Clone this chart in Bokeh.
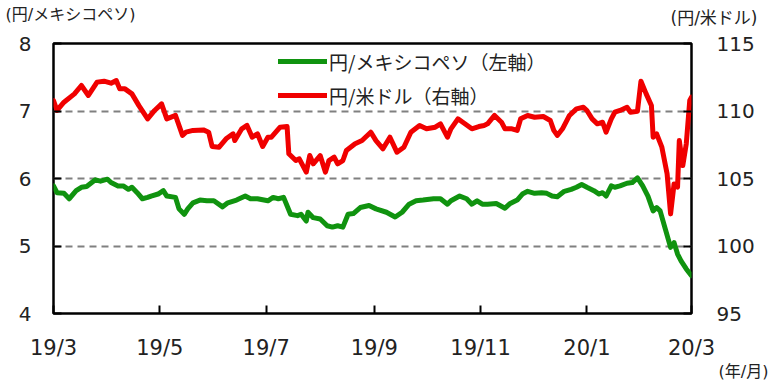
import pandas as pd
from bokeh.plotting import figure
from bokeh.models import (Range1d, LinearAxis, FixedTicker, Legend, LegendItem,
                          Label, ColumnDataSource)
from bokeh.embed import file_html
from bokeh.resources import INLINE

# ---------------- data ----------------
mxn_dates = [
    "2019-03-19", "2019-03-21", "2019-03-25", "2019-03-28", "2019-04-01", "2019-04-04",
    "2019-04-07", "2019-04-12", "2019-04-15", "2019-04-19", "2019-04-21", "2019-04-25",
    "2019-04-28", "2019-05-01", "2019-05-03", "2019-05-06", "2019-05-09", "2019-05-12",
    "2019-05-14", "2019-05-18", "2019-05-21", "2019-05-23", "2019-05-28", "2019-05-30",
    "2019-06-02", "2019-06-04", "2019-06-07", "2019-06-11", "2019-06-15", "2019-06-19",
    "2019-06-24", "2019-06-27", "2019-07-02", "2019-07-07", "2019-07-10", "2019-07-14",
    "2019-07-20", "2019-07-23", "2019-07-26", "2019-07-29", "2019-08-02", "2019-08-06",
    "2019-08-08", "2019-08-11", "2019-08-12", "2019-08-15", "2019-08-19", "2019-08-23",
    "2019-08-26", "2019-08-29", "2019-09-01", "2019-09-04", "2019-09-07", "2019-09-11",
    "2019-09-16", "2019-09-20", "2019-09-26", "2019-10-01", "2019-10-05", "2019-10-09",
    "2019-10-13", "2019-10-17", "2019-10-23", "2019-10-27", "2019-10-31", "2019-11-02",
    "2019-11-07", "2019-11-11", "2019-11-14", "2019-11-17", "2019-11-20", "2019-11-23",
    "2019-11-28", "2019-12-03", "2019-12-06", "2019-12-10", "2019-12-13", "2019-12-16",
    "2019-12-20", "2019-12-24", "2019-12-27", "2019-12-30", "2020-01-02", "2020-01-06",
    "2020-01-10", "2020-01-13", "2020-01-16", "2020-01-19", "2020-01-23", "2020-01-26",
    "2020-01-28", "2020-01-30", "2020-02-02", "2020-02-04", "2020-02-07", "2020-02-11",
    "2020-02-14", "2020-02-17", "2020-02-20", "2020-02-23", "2020-02-26", "2020-02-28",
    "2020-03-01", "2020-03-04", "2020-03-07", "2020-03-09", "2020-03-11", "2020-03-13",
    "2020-03-16", "2020-03-19",
]
mxn_values = [
    5.89, 5.79, 5.78, 5.70, 5.82, 5.87,
    5.88, 5.98, 5.96, 5.99, 5.94, 5.89,
    5.89, 5.84, 5.87, 5.79, 5.70, 5.72,
    5.74, 5.77, 5.82, 5.74, 5.72, 5.55,
    5.47, 5.55, 5.64, 5.68, 5.67, 5.67,
    5.58, 5.64, 5.68, 5.74, 5.70, 5.70,
    5.67, 5.72, 5.70, 5.72, 5.47, 5.45,
    5.47, 5.37, 5.50, 5.42, 5.40, 5.30,
    5.28, 5.30, 5.28, 5.47, 5.48, 5.57,
    5.60, 5.55, 5.50, 5.43, 5.50, 5.62,
    5.67, 5.68, 5.70, 5.70, 5.62, 5.67,
    5.74, 5.70, 5.62, 5.67, 5.62, 5.62,
    5.63, 5.56, 5.63, 5.68, 5.77, 5.81,
    5.78, 5.79, 5.78, 5.74, 5.73, 5.81,
    5.84, 5.87, 5.91, 5.87, 5.82, 5.77,
    5.79, 5.74, 5.89, 5.87, 5.89, 5.93,
    5.94, 6.01, 5.89, 5.74, 5.52, 5.57,
    5.52, 5.25, 4.98, 5.05, 4.88, 4.78,
    4.66, 4.56,
]

usd_dates = [
    "2019-03-19", "2019-03-21", "2019-03-25", "2019-03-31", "2019-04-04", "2019-04-08",
    "2019-04-13", "2019-04-17", "2019-04-21", "2019-04-24", "2019-04-26", "2019-04-29",
    "2019-05-03", "2019-05-07", "2019-05-12", "2019-05-16", "2019-05-20", "2019-05-23",
    "2019-05-28", "2019-06-01", "2019-06-03", "2019-06-07", "2019-06-13", "2019-06-16",
    "2019-06-18", "2019-06-22", "2019-06-26", "2019-06-30", "2019-07-01", "2019-07-05",
    "2019-07-08", "2019-07-11", "2019-07-14", "2019-07-17", "2019-07-20", "2019-07-22",
    "2019-07-27", "2019-07-31", "2019-08-01", "2019-08-05", "2019-08-07", "2019-08-11",
    "2019-08-13", "2019-08-15", "2019-08-19", "2019-08-22", "2019-08-24", "2019-08-27",
    "2019-08-29", "2019-09-01", "2019-09-03", "2019-09-08", "2019-09-12", "2019-09-17",
    "2019-09-20", "2019-09-24", "2019-09-28", "2019-10-02", "2019-10-06", "2019-10-10",
    "2019-10-15", "2019-10-19", "2019-10-24", "2019-10-27", "2019-10-31", "2019-11-02",
    "2019-11-06", "2019-11-10", "2019-11-14", "2019-11-18", "2019-11-21", "2019-11-23",
    "2019-11-27", "2019-12-01", "2019-12-03", "2019-12-07", "2019-12-10", "2019-12-12",
    "2019-12-16", "2019-12-20", "2019-12-25", "2019-12-29", "2019-12-31", "2020-01-02",
    "2020-01-05", "2020-01-09", "2020-01-13", "2020-01-17", "2020-01-19", "2020-01-22",
    "2020-01-25", "2020-01-28", "2020-01-30", "2020-02-02", "2020-02-04", "2020-02-07",
    "2020-02-11", "2020-02-13", "2020-02-17", "2020-02-19", "2020-02-22", "2020-02-25",
    "2020-02-26", "2020-02-28", "2020-03-02", "2020-03-05", "2020-03-07", "2020-03-09",
    "2020-03-11", "2020-03-12", "2020-03-14", "2020-03-16", "2020-03-18", "2020-03-19",
]
usd_values = [
    110.78, 110.04, 110.65, 111.27, 111.89, 111.15,
    112.14, 112.21, 112.06, 112.26, 111.64, 111.64,
    111.27, 110.40, 109.42, 110.04, 110.53, 109.42,
    109.67, 108.19, 108.43, 108.56, 108.60, 108.43,
    107.37, 107.32, 107.94, 108.31, 107.81, 108.68,
    108.93, 108.06, 108.31, 107.37, 108.06, 108.06,
    108.80, 108.85, 106.83, 106.33, 106.46, 105.47,
    106.70, 106.09, 106.70, 105.47, 106.33, 106.58,
    106.09, 106.33, 107.07, 107.57, 107.81, 108.43,
    107.81, 107.20, 108.06, 106.95, 107.32, 108.43,
    108.93, 108.68, 108.80, 109.05, 108.06, 108.68,
    109.42, 109.05, 108.68, 108.85, 108.93, 109.05,
    109.67, 109.17, 108.68, 108.68, 108.56, 109.42,
    109.67, 109.54, 109.59, 109.30, 108.56, 108.19,
    108.68, 109.67, 110.16, 110.28, 110.04, 109.42,
    109.05, 109.17, 108.43, 109.42, 109.91, 110.04,
    110.28, 109.91, 109.98, 112.20, 111.27, 110.41,
    108.06, 108.31, 107.32, 105.35, 102.38, 104.60,
    104.36, 107.81, 105.96, 107.57, 110.78, 111.02,
]

x_tick_dates = ["2019-03-19", "2019-05-19", "2019-07-19", "2019-09-19",
                "2019-11-19", "2020-01-19", "2020-03-19"]
x_tick_labels = ["19/3", "19/5", "19/7", "19/9", "19/11", "20/1", "20/3"]
left_ticks = [4, 5, 6, 7, 8]
right_ticks = [95, 100, 105, 110, 115]
grid_ticks = [5, 6, 7]

series_labels = ["円/メキシコペソ（左軸）", "円/米ドル（右軸）"]
left_title = "(円/メキシコペソ)"
right_title = "(円/米ドル)"
x_title = "(年/月)"

# ---------------- figure ----------------
GREEN = "#10930f"
RED = "#f00000"
TXT = "#222222"
TICK_FONT = "DejaVu Sans"
JP_FONT = "Noto Sans CJK JP"
TITLE_FONT = "DejaVu Sans, Noto Sans CJK JP"

x_start = pd.Timestamp(x_tick_dates[0])
x_end = pd.Timestamp(x_tick_dates[-1])

p = figure(width=774, height=381, x_axis_type="datetime",
           x_range=Range1d(x_start, x_end), y_range=Range1d(4, 8),
           output_backend="svg", toolbar_location=None)
p.extra_y_ranges = {"usd": Range1d(95, 115)}

p.min_border_left = 53
p.min_border_right = 83
p.min_border_top = 43
p.min_border_bottom = 68
p.background_fill_color = "white"
p.border_fill_color = "white"
p.outline_line_color = "black"
p.outline_line_width = 2.5

mxn_src = ColumnDataSource(dict(x=pd.to_datetime(mxn_dates), y=mxn_values))
usd_src = ColumnDataSource(dict(x=pd.to_datetime(usd_dates), y=usd_values))

g = p.line("x", "y", source=mxn_src, line_color=GREEN, line_width=5,
           line_join="round", line_cap="round")
r = p.line("x", "y", source=usd_src, line_color=RED, line_width=5,
           line_join="round", line_cap="round", y_range_name="usd")

# grid
p.xgrid.visible = False
p.ygrid.ticker = FixedTicker(ticks=grid_ticks)
p.ygrid.grid_line_color = "#808080"
p.ygrid.grid_line_width = 2
p.ygrid.grid_line_dash = "7 5"

def style_axis(ax, standoff, size):
    ax.axis_line_color = None
    ax.major_tick_in = 8
    ax.major_tick_out = 0
    ax.minor_tick_line_color = None
    ax.major_tick_line_color = "black"
    ax.major_tick_line_width = 2
    ax.major_label_text_font = TICK_FONT
    ax.major_label_text_font_size = size
    ax.major_label_text_color = TXT
    ax.major_label_standoff = standoff

# x axis
x_ms = [float(pd.Timestamp(d).value // 10**6) for d in x_tick_dates]
xa = p.xaxis[0]
xa.ticker = FixedTicker(ticks=x_ms)
xa.major_label_overrides = {k: v for k, v in zip(x_ms, x_tick_labels)}
style_axis(xa, 22, "21px")

# left axis
ya = p.yaxis[0]
ya.ticker = FixedTicker(ticks=left_ticks)
style_axis(ya, 22, "20px")

# right axis
ra = LinearAxis(y_range_name="usd", ticker=FixedTicker(ticks=right_ticks))
style_axis(ra, 25, "20px")
p.add_layout(ra, "right")

# legend
legend = Legend(items=[LegendItem(label=series_labels[0], renderers=[g]),
                       LegendItem(label=series_labels[1], renderers=[r])],
                location=(225, 201))
legend.label_text_font = JP_FONT
legend.label_text_font_size = "19px"
legend.label_text_color = TXT
legend.glyph_width = 49
legend.glyph_height = 34
legend.label_height = 34
legend.spacing = 0
legend.padding = 0
legend.margin = 0
legend.label_standoff = 2
legend.border_line_color = None
legend.background_fill_alpha = 0
p.add_layout(legend)

# axis titles: labels placed in the side panels (outside the frame)
def title_label(x, y, text, align, size):
    return Label(x=x, y=y, x_units="screen", y_units="screen", text=text,
                 text_font=TITLE_FONT, text_font_size=size, text_color=TXT,
                 text_baseline="middle", text_align=align)

p.add_layout(title_label(704, 25.5, right_title, "right", "17px"), "above")
p.add_layout(title_label(-48, 9, left_title, "left", "16px"), "above")
p.add_layout(title_label(715, 10, x_title, "right", "16px"), "below")

open("out.html", "w").write(file_html(p, INLINE))
